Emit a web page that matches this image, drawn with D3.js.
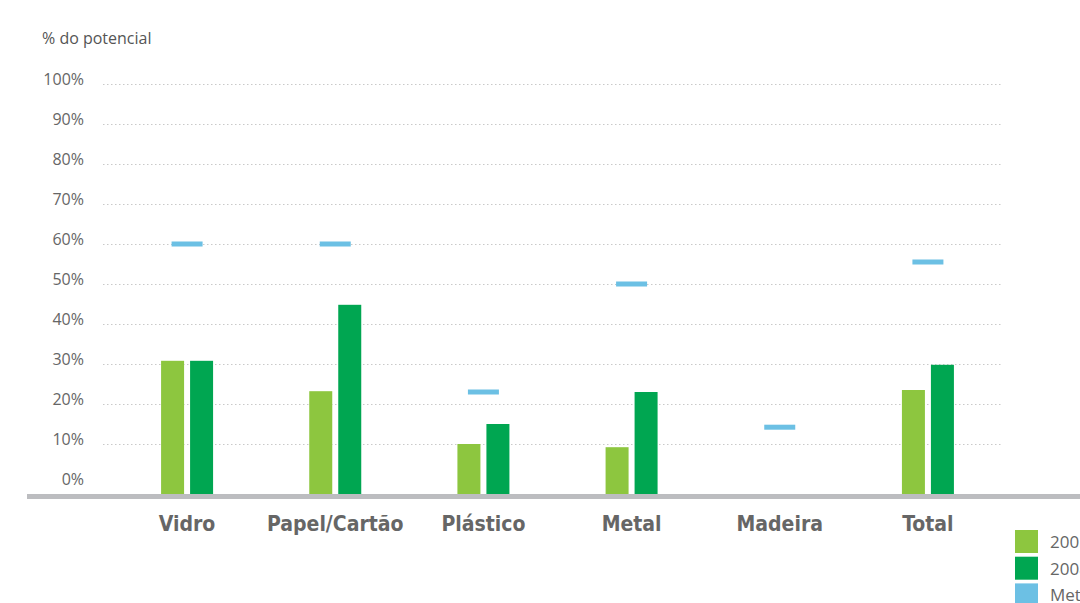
<!DOCTYPE html>
<html><head><meta charset="utf-8">
<script src="https://cdn.jsdelivr.net/npm/d3@7"></script>
<style>
html,body{margin:0;padding:0;background:#fff;}
svg{display:block;}
</style></head>
<body>
<svg id="c" width="1080" height="603"></svg>
<script>
const categories = ["Vidro", "Papel/Cartão", "Plástico", "Metal", "Madeira", "Total"];
const series1 = [30.8, 23.2, 10.0, 9.2, null, 23.5];   // 2005
const series2 = [30.8, 44.8, 15.0, 23.0, null, 29.8];  // 2008
const targets = [60, 60, 23, 50, 14.2, 55.5];          // Metas
const yTicks = [0, 10, 20, 30, 40, 50, 60, 70, 80, 90, 100];
const legendLabels = ["2005", "2008", "Metas 2011"];
const colors = ["#8dc63f", "#00a651", "#6cc0e4"];

const svg = d3.select("#c");
const font = "'Open Sans', 'Noto Sans', sans-serif";

const y = d3.scaleLinear().domain([0, 100]).range([484, 84]);
const x = d3.scaleBand().domain(categories).range([113, 1002]).paddingInner(0).paddingOuter(0);
const baseY = 494;

// gridlines
svg.append("g").selectAll("line").data(yTicks.filter(d => d > 0)).join("line")
  .attr("x1", 103).attr("x2", 1003)
  .attr("y1", d => y(d) + 0.5).attr("y2", d => y(d) + 0.5)
  .attr("stroke", "#c9c9c9").attr("stroke-width", 1).attr("stroke-dasharray", "1.5,2.5");

// y labels
svg.append("g").selectAll("text").data(yTicks).join("text")
  .attr("x", 84).attr("y", d => y(d) + 1)
  .attr("text-anchor", "end")
  .attr("font-family", font).attr("font-size", 16).attr("fill", "#666")
  .text(d => d + "%");

svg.append("text").attr("x", 42).attr("y", 44)
  .attr("font-family", font).attr("font-size", 16).attr("fill", "#555")
  .text("% do potencial");

const bw = 23, gap = 6;
const cx = c => x(c) + x.bandwidth() / 2;

[series1, series2].forEach((s, si) => {
  svg.append("g").selectAll("rect").data(categories.map((c, i) => ({c, v: s[i]})).filter(d => d.v != null)).join("rect")
    .attr("x", d => si === 0 ? cx(d.c) - gap / 2 - bw : cx(d.c) + gap / 2)
    .attr("width", bw)
    .attr("y", d => y(d.v))
    .attr("height", d => baseY - y(d.v))
    .attr("fill", colors[si]);
});

// targets
svg.append("g").selectAll("rect").data(categories.map((c, i) => ({c, v: targets[i]}))).join("rect")
  .attr("x", d => cx(d.c) - 15.5).attr("width", 31)
  .attr("y", d => y(d.v) - 2.5).attr("height", 5)
  .attr("fill", colors[2]);

// baseline
svg.append("rect").attr("x", 27).attr("y", 494).attr("width", 1060).attr("height", 5).attr("fill", "#bcbdc0");

// category labels
svg.append("g").selectAll("text").data(categories).join("text")
  .attr("x", d => cx(d)).attr("y", 531)
  .attr("text-anchor", "middle")
  .attr("font-family", "'DejaVu Sans Condensed', 'DejaVu Sans', sans-serif").attr("font-weight", "bold")
  .attr("font-size", 21).attr("fill", "#666")
  .text(d => d);

// legend
const lg = svg.append("g").selectAll("g").data(legendLabels).join("g")
  .attr("transform", (d, i) => `translate(1015, ${530 + i * 26.7})`);
lg.append("rect").attr("width", 23).attr("height", 23).attr("fill", (d, i) => colors[i]);
lg.append("text").attr("x", 35).attr("y", 18)
  .attr("font-family", font).attr("font-size", 17).attr("fill", "#666").text(d => d);
</script>
</body></html>
